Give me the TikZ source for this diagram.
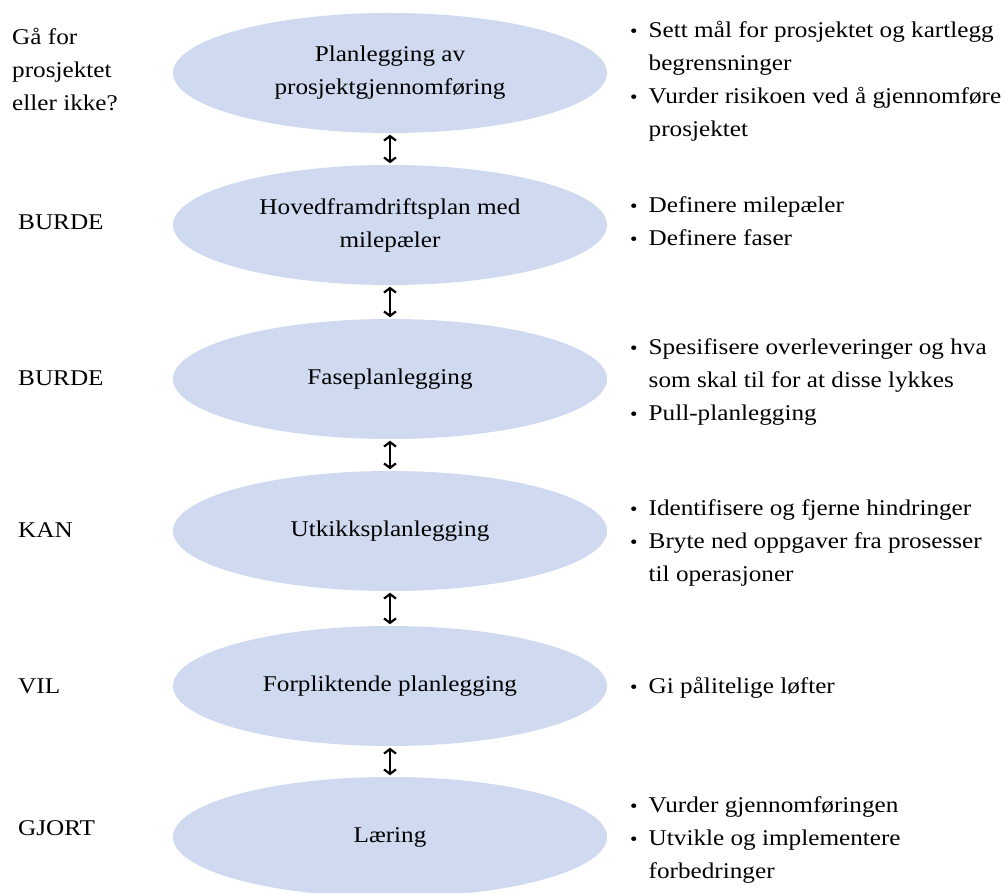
\documentclass[tikz,border=0pt]{standalone}
\usepackage{fontspec}
\setmainfont{Liberation Serif}[FakeStretch=1.12]
\usetikzlibrary{shapes.geometric,arrows.meta}
\definecolor{phasefill}{RGB}{207,218,240}
\newcommand\bulletmark{{\fontsize{19}{19}\selectfont\textbullet}}
\tikzset{
  txt/.style={font=\fontsize{22.5}{33}\selectfont, inner sep=0pt},
  phase/.style={txt, ellipse, fill=phasefill, minimum width=434pt,
    minimum height=120pt, align=center},
  lefttag/.style={txt, anchor=base west},
  notes/.style={txt, anchor=base west},
  link/.style={line width=2.2pt, {Straight Barb[length=4.5pt,width=12pt]}-{Straight Barb[length=4.5pt,width=12pt]}, shorten <=1.5pt, shorten >=1.5pt}
}
% bullet list block: first column holds the bullet, second the text lines
\newenvironment{blist}{\begin{tabular}[t]{@{}p{18.5pt}@{}l@{}}}{\end{tabular}}
\begin{document}
\begin{tikzpicture}[x=1pt,y=-1pt]
\useasboundingbox (0,0) rectangle (1007,893);

% phases
\node[phase] (p1) at (390,73)  {Planlegging av\\prosjektgjennomføring};
\node[phase] (p2) at (390,225) {Hovedframdriftsplan med\\milepæler};
\node[phase] (p3) at (390,379) {Faseplanlegging};
\node[phase] (p4) at (390,531) {Utkikksplanlegging};
\node[phase] (p5) at (390,686) {Forpliktende planlegging};
\node[phase] (p6) at (390,837) {Læring};

% links between phases
\draw[link] (p1.south) -- (p2.north);
\draw[link] (p2.south) -- (p3.north);
\draw[link] (p3.south) -- (p4.north);
\draw[link] (p4.south) -- (p5.north);
\draw[link] (p5.south) -- (p6.north);

% commitment level
\node[lefttag] (t1) at (12,45) {\begin{tabular}[t]{@{}l@{}}Gå for\\prosjektet\\eller ikke?\end{tabular}};
\node[lefttag] (t2) at (18,229.5) {BURDE};
\node[lefttag] (t3) at (18,385.5) {BURDE};
\node[lefttag] (t4) at (18,537.5) {KAN};
\node[lefttag] (t5) at (18,693.5) {VIL};
\node[lefttag] (t6) at (18,835.5) {GJORT};

% activities
\node[notes] (n1) at (630,38) {\begin{blist}
\bulletmark & Sett mål for prosjektet og kartlegg\\
 & begrensninger\\
\bulletmark & Vurder risikoen ved å gjennomføre\\
 & prosjektet
\end{blist}};
\node[notes] (n2) at (630,213) {\begin{blist}
\bulletmark & Definere milepæler\\
\bulletmark & Definere faser
\end{blist}};
\node[notes] (n3) at (630,355) {\begin{blist}
\bulletmark & Spesifisere overleveringer og hva\\
 & som skal til for at disse lykkes\\
\bulletmark & Pull-planlegging
\end{blist}};
\node[notes] (n4) at (630,515) {\begin{blist}
\bulletmark & Identifisere og fjerne hindringer\\
\bulletmark & Bryte ned oppgaver fra prosesser\\
 & til operasjoner
\end{blist}};
\node[notes] (n5) at (630,693) {\begin{blist}
\bulletmark & Gi pålitelige løfter
\end{blist}};
\node[notes] (n6) at (630,812) {\begin{blist}
\bulletmark & Vurder gjennomføringen\\
\bulletmark & Utvikle og implementere\\
 & forbedringer
\end{blist}};
\end{tikzpicture}
\end{document}
